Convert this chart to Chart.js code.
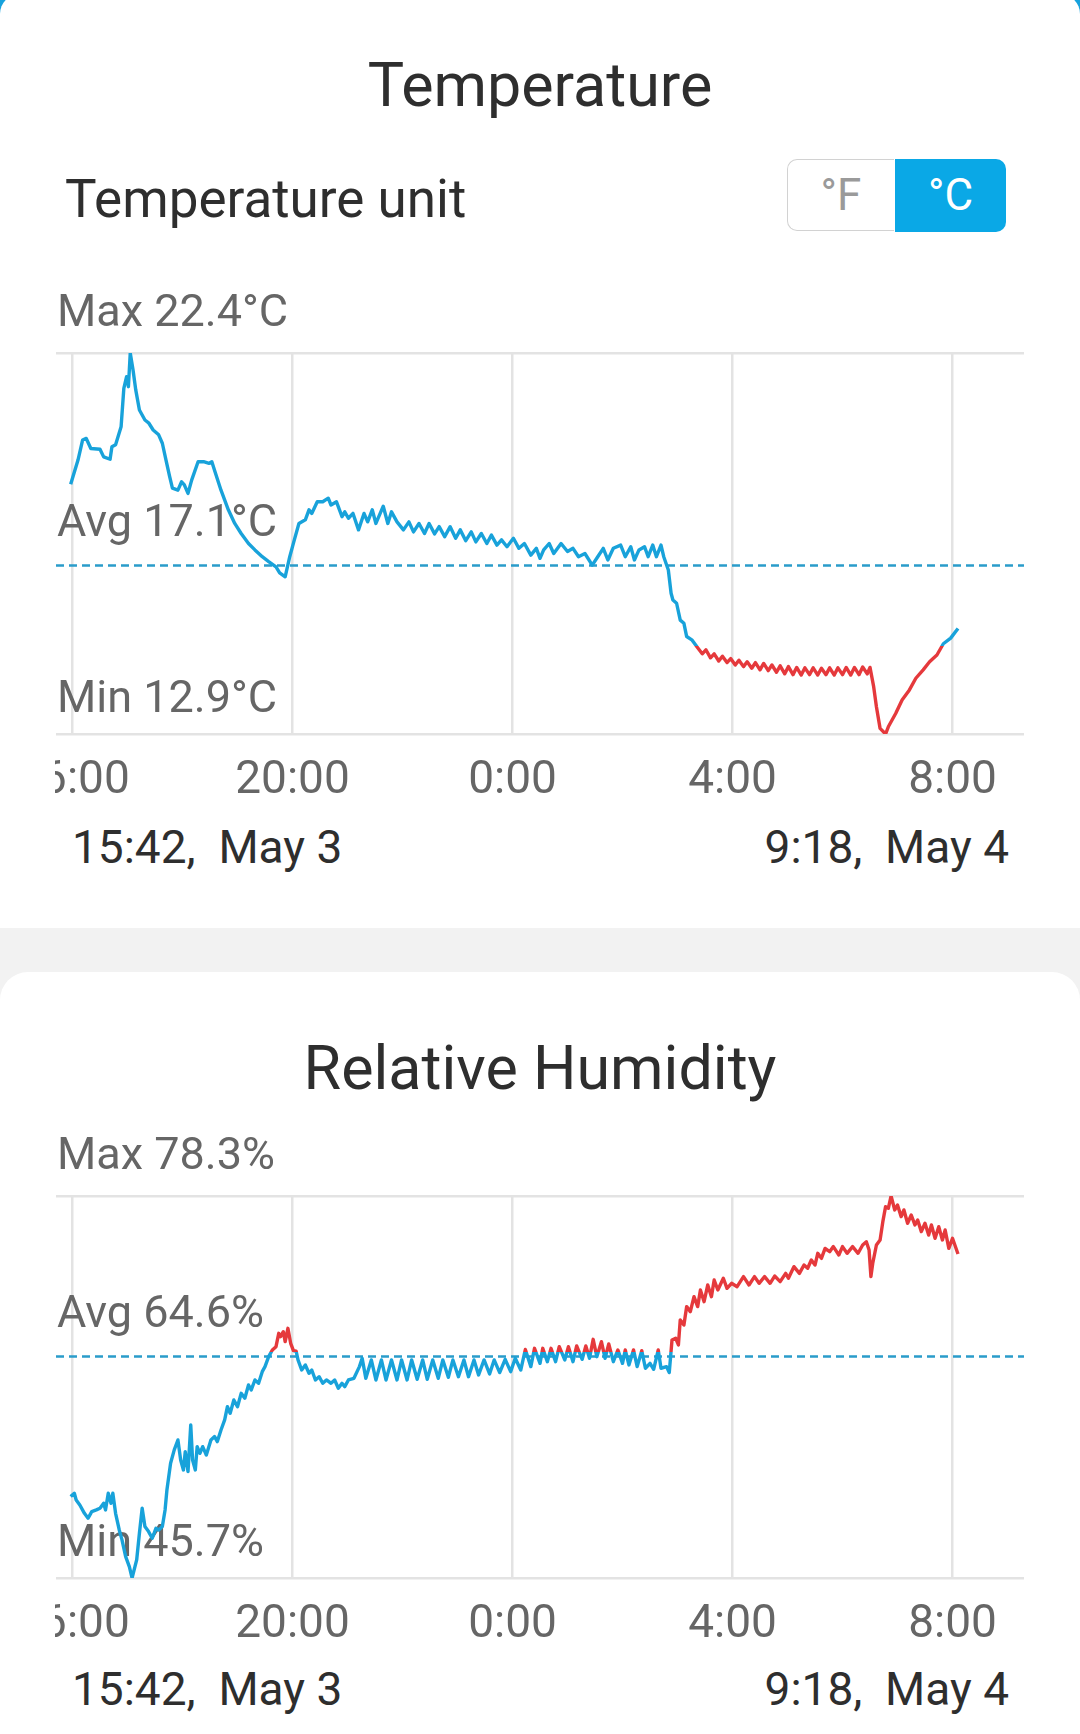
<!DOCTYPE html>
<html><head><meta charset="utf-8">
<script src="https://cdn.jsdelivr.net/npm/chart.js@4.4.1/dist/chart.umd.min.js"></script>
<style>
html,body{margin:0;padding:0;}
body{width:1080px;height:1734px;position:relative;overflow:hidden;background:#f2f2f2;font-family:Roboto,"Noto Sans",sans-serif;}
.abs{position:absolute;}
#blueTop{left:0;top:0;width:1080px;height:40px;background:#17a2dd;}
#card1{left:0;top:-6px;width:1080px;height:934px;background:#fff;border-radius:20px 20px 0 0;}
#card2{left:0;top:972px;width:1080px;height:762px;background:#fff;border-radius:28px 28px 0 0;}
.title{left:0;width:1080px;text-align:center;font-size:61px;line-height:61px;color:#2e2e2e;white-space:nowrap;}
.unit{left:65px;top:173px;font-size:53px;line-height:53px;color:#2e2e2e;white-space:nowrap;}
.date{font-size:46px;line-height:46px;color:#2e2e2e;white-space:pre;}
#toggle{left:787px;top:159px;width:219px;height:73px;}
#tF{position:absolute;left:0;top:0;width:106px;height:70px;border:1.5px solid #d2d2d2;border-right:none;border-radius:10px 0 0 10px;background:#fff;color:#9a9a9a;font-size:44px;line-height:70px;text-align:center;}
#tC{position:absolute;left:108px;top:0;width:111px;height:73px;border-radius:0 10px 10px 0;background:#0aa8e6;color:#fff;font-size:44px;line-height:73px;text-align:center;}
canvas{position:absolute;}
</style>
</head><body>
<div id="blueTop" class="abs"></div>
<div id="card1" class="abs"></div>
<div id="card2" class="abs"></div>

<div class="abs title" style="top:55px;">Temperature</div>
<div class="abs unit">Temperature unit</div>
<div id="toggle" class="abs"><div id="tF">°F</div><div id="tC">°C</div></div>
<canvas id="tempChart" width="969" height="520" style="left:55px;top:280px;"></canvas>
<div class="abs date" style="left:72px;top:824px;">15:42,  May 3</div>
<div class="abs date" style="right:71px;top:824px;">9:18,  May 4</div>

<div class="abs title" style="top:1038px;">Relative Humidity</div>
<canvas id="humChart" width="969" height="519" style="left:55px;top:1125px;"></canvas>
<div class="abs date" style="left:72px;top:1666px;">15:42,  May 3</div>
<div class="abs date" style="right:71px;top:1666px;">9:18,  May 4</div>

<script>
// ---- axis ----
const rangeStart = "15:42";
const rangeEnd = "9:18";
const tickTimes = ["16:00", "20:00", "0:00", "4:00", "8:00"];
const tickLabels = ["16:00", "20:00", "0:00", "4:00", "8:00"];

// ---- temperature ----
const tempMax = 22.4, tempAvg = 17.1, tempMin = 12.9;
const tempThreshold = 15.1;
const tempTimes = ["15:58","16:06","16:11","16:15","16:20","16:30","16:34","16:41","16:43","16:47","16:53","16:56","16:59","17:01","17:03","17:06","17:09","17:13","17:19","17:23","17:28","17:34","17:38","17:42","17:46","17:49","17:55","17:59","18:02","18:06","18:10","18:17","18:23","18:29","18:32","18:36","18:42","18:50","18:57","19:04","19:12","19:19","19:27","19:34","19:42","19:46","19:52","19:57","20:02","20:07","20:14","20:18","20:21","20:27","20:33","20:39","20:42","20:48","20:54","20:57","21:01","21:06","21:12","21:18","21:22","21:27","21:31","21:39","21:44","21:48","21:54","22:01","22:07","22:12","22:18","22:24","22:29","22:35","22:40","22:46","22:52","22:58","23:03","23:09","23:15","23:20","23:26","23:32","23:37","23:43","23:48","23:54","0:01","0:07","0:13","0:20","0:26","0:30","0:34","0:40","0:45","0:53","1:00","1:06","1:12","1:19","1:27","1:33","1:39","1:44","1:50","1:58","2:03","2:09","2:13","2:18","2:24","2:28","2:33","2:37","2:42","2:45","2:50","2:53","2:55","2:59","3:03","3:07","3:10","3:16","3:22","3:27","3:31","3:36","3:40","3:45","3:49","3:54","3:58","4:03","4:07","4:12","4:16","4:21","4:25","4:30","4:34","4:39","4:43","4:48","4:52","4:57","5:01","5:06","5:10","5:15","5:19","5:24","5:28","5:33","5:37","5:42","5:46","5:51","5:55","6:00","6:04","6:09","6:13","6:18","6:22","6:27","6:30","6:34","6:37","6:41","6:47","6:50","6:58","7:05","7:13","7:20","7:28","7:35","7:43","7:50","7:58","8:06"];
const tempValues = [19.13,19.73,20.23,20.27,20.02,20.00,19.81,19.75,20.06,20.11,20.56,21.52,21.81,21.56,22.40,21.98,21.48,20.98,20.73,20.66,20.48,20.36,20.15,19.73,19.32,19.03,18.98,19.19,19.11,18.90,19.23,19.69,19.69,19.65,19.69,19.40,18.98,18.49,18.15,17.90,17.65,17.49,17.32,17.20,17.07,16.92,16.82,17.32,17.74,18.15,18.24,18.49,18.40,18.69,18.69,18.78,18.61,18.69,18.32,18.44,18.28,18.40,17.99,18.40,18.19,18.49,18.15,18.58,18.15,18.44,18.19,17.99,18.19,17.94,18.15,17.90,18.15,17.89,18.07,17.82,18.07,17.78,17.99,17.72,17.94,17.69,17.90,17.65,17.86,17.61,17.74,17.57,17.78,17.53,17.65,17.36,17.53,17.28,17.49,17.65,17.40,17.65,17.45,17.53,17.32,17.40,17.11,17.32,17.53,17.24,17.53,17.61,17.32,17.57,17.24,17.49,17.57,17.32,17.61,17.32,17.61,17.32,16.99,16.41,16.24,16.16,15.74,15.66,15.33,15.24,15.05,14.90,15.00,14.80,14.90,14.72,14.84,14.68,14.78,14.62,14.74,14.58,14.70,14.54,14.68,14.50,14.66,14.48,14.62,14.44,14.60,14.40,14.58,14.38,14.56,14.37,14.55,14.38,14.55,14.37,14.54,14.38,14.55,14.37,14.55,14.38,14.56,14.37,14.56,14.38,14.57,14.40,14.56,14.08,13.58,13.04,12.90,13.08,13.41,13.75,14.00,14.29,14.50,14.70,14.87,15.15,15.29,15.53];

// ---- humidity ----
const humMax = 78.3, humAvg = 64.6, humMin = 45.7;
const humThreshold = 65.0;
const humTimes = ["15:58","16:02","16:04","16:08","16:13","16:17","16:21","16:26","16:30","16:34","16:36","16:39","16:42","16:44","16:47","16:51","16:54","16:58","17:02","17:05","17:10","17:13","17:16","17:19","17:23","17:27","17:31","17:34","17:38","17:41","17:43","17:47","17:51","17:55","17:58","18:01","18:03","18:06","18:09","18:11","18:14","18:16","18:19","18:22","18:26","18:31","18:35","18:38","18:42","18:46","18:49","18:52","18:56","19:00","19:04","19:08","19:12","19:15","19:19","19:23","19:27","19:30","19:34","19:38","19:42","19:45","19:47","19:50","19:52","19:55","19:58","20:01","20:04","20:06","20:10","20:14","20:18","20:21","20:25","20:29","20:33","20:37","20:42","20:46","20:50","20:54","20:57","21:01","21:07","21:13","21:16","21:20","21:26","21:31","21:37","21:42","21:48","21:54","21:59","22:05","22:10","22:16","22:22","22:27","22:33","22:39","22:44","22:50","22:55","23:01","23:07","23:12","23:18","23:23","23:29","23:35","23:40","23:46","23:52","23:58","0:03","0:09","0:14","0:20","0:24","0:30","0:33","0:38","0:42","0:47","0:51","0:57","1:01","1:06","1:10","1:16","1:20","1:24","1:28","1:32","1:37","1:41","1:45","1:50","1:55","2:00","2:03","2:07","2:12","2:16","2:21","2:25","2:30","2:34","2:39","2:42","2:48","2:51","2:54","2:58","3:01","3:03","3:07","3:10","3:14","3:18","3:22","3:25","3:29","3:33","3:37","3:40","3:44","3:50","3:54","3:59","4:05","4:12","4:18","4:24","4:29","4:35","4:41","4:46","4:52","4:58","5:01","5:07","5:13","5:18","5:22","5:26","5:30","5:33","5:37","5:41","5:46","5:50","5:56","6:00","6:05","6:11","6:17","6:22","6:26","6:29","6:31","6:33","6:37","6:41","6:44","6:47","6:50","6:53","6:57","7:00","7:04","7:07","7:11","7:15","7:19","7:22","7:26","7:30","7:34","7:37","7:41","7:45","7:49","7:52","7:56","8:00","8:06"];
const humValues = [52.65,52.93,52.36,51.93,51.22,50.80,51.37,51.51,51.65,52.08,51.51,52.93,52.08,52.93,51.22,49.80,48.95,47.53,46.67,45.70,47.24,49.52,51.65,50.09,49.66,49.09,49.94,49.80,50.09,51.51,53.21,55.49,56.63,57.48,55.77,54.92,56.48,54.78,58.76,55.77,54.92,56.91,56.34,56.91,56.20,57.48,57.77,57.34,58.33,59.19,60.32,59.76,60.89,60.32,61.46,61.04,62.17,61.75,62.60,62.32,63.31,63.74,64.59,65.16,65.44,66.58,66.30,66.72,65.87,67.01,65.73,65.10,65.05,64.31,63.45,63.88,63.17,63.45,62.60,62.88,62.32,62.60,62.32,62.60,61.89,62.32,62.03,62.60,62.74,63.74,64.45,62.74,64.31,62.60,64.31,62.60,64.31,62.60,64.31,62.60,64.31,62.66,64.31,62.66,64.31,62.74,64.31,62.83,64.31,62.88,64.31,62.88,64.31,63.03,64.31,63.11,64.31,63.23,64.36,63.31,64.45,63.45,65.20,63.74,65.30,64.02,65.30,64.16,65.30,64.16,65.44,64.31,65.44,64.16,65.50,64.36,65.50,64.45,66.07,64.59,65.87,64.45,65.67,64.16,65.16,64.02,65.16,63.88,65.16,63.74,65.10,63.60,64.02,63.51,65.16,63.60,63.74,63.23,66.01,66.16,65.59,67.72,67.29,68.86,68.43,69.71,68.86,70.28,69.28,70.71,69.71,71.13,70.28,71.28,70.42,70.85,70.56,71.42,70.71,71.42,70.85,71.42,70.85,71.47,70.99,71.70,71.28,72.27,71.70,72.41,72.13,72.84,72.41,73.41,72.98,73.83,73.55,73.98,73.27,73.98,73.41,73.98,73.41,74.12,74.40,73.69,71.42,72.56,74.12,74.55,76.11,77.39,77.25,78.30,77.11,77.53,76.54,77.11,75.97,76.68,75.83,76.25,75.26,75.97,74.97,75.83,74.69,75.68,74.55,75.40,73.83,74.69,73.35];

// ---- helpers ----
function toMin(t) {
  const [h, m] = t.split(":").map(Number);
  return (h < 12 ? h + 24 : h) * 60 + m;
}
const xMin = toMin(rangeStart), xMax = toMin(rangeEnd);
const tickMinutes = tickTimes.map(toMin);
const BLUE = "#18a2da", RED = "#e5393c";

function splitColor(thr, belowColor, aboveColor) {
  return function (context) {
    const chart = context.chart;
    const { ctx, chartArea, scales } = chart;
    if (!chartArea || !scales.y) return belowColor;
    const yp = scales.y.getPixelForValue(thr);
    const g = ctx.createLinearGradient(0, chartArea.bottom, 0, chartArea.top);
    let p = (chartArea.bottom - yp) / (chartArea.bottom - chartArea.top);
    p = Math.min(1, Math.max(0, p));
    g.addColorStop(0, belowColor); g.addColorStop(p, belowColor);
    g.addColorStop(p, aboveColor); g.addColorStop(1, aboveColor);
    return g;
  };
}

const summaryPlugin = {
  id: "summary",
  beforeDatasetsDraw(chart, args, opts) {
    const { ctx, chartArea, scales } = chart;
    ctx.save();
    ctx.font = "45px Roboto";
    ctx.fillStyle = "#666666";
    ctx.textAlign = "left";
    ctx.textBaseline = "alphabetic";
    const x = chartArea.left + 1;
    ctx.fillText(opts.maxText, x, chartArea.top - 27);
    ctx.fillText(opts.avgText, x, scales.y.getPixelForValue(opts.avgValue) - 30);
    ctx.fillText(opts.minText, x, chartArea.bottom - 22);
    ctx.restore();
  }
};

function makeChart(id, times, values, lo, hi, avg, unit, color, padTop) {
  const pts = times.map((t, i) => ({ x: toMin(t), y: values[i] }));
  return new Chart(document.getElementById(id), {
    type: "line",
    data: {
      datasets: [
        { data: pts, borderColor: color, borderWidth: 3.4, pointRadius: 0, tension: 0, order: 1, borderJoinStyle: "round" },
        { data: [{ x: xMin, y: avg }, { x: xMax, y: avg }], borderColor: "#2a9cca", borderWidth: 2.5, borderDash: [8, 5], pointRadius: 0, order: 2 }
      ]
    },
    options: {
      responsive: false, animation: false, events: [],
      layout: { padding: { left: 1, right: 0, top: padTop, bottom: 0 } },
      plugins: {
        legend: { display: false }, tooltip: { enabled: false },
        summary: {
          maxText: "Max " + hi.toFixed(1) + unit,
          avgText: "Avg " + avg.toFixed(1) + unit,
          minText: "Min " + lo.toFixed(1) + unit,
          avgValue: avg
        }
      },
      scales: {
        x: {
          type: "linear", min: xMin, max: xMax,
          afterBuildTicks: a => { a.ticks = tickMinutes.map(v => ({ value: v })); },
          ticks: {
            callback: v => tickLabels[tickMinutes.indexOf(v)],
            font: { family: "Roboto", size: 46 }, color: "#666666",
            padding: 20, maxRotation: 0, minRotation: 0, autoSkip: false
          },
          grid: { color: "#e3e3e3", lineWidth: 2.5, drawTicks: false },
          border: { display: false },
          afterFit: a => { a.height = 66; a.paddingLeft = 0; a.paddingRight = 0; }
        },
        y: {
          min: lo, max: hi,
          afterBuildTicks: a => { a.ticks = [{ value: lo }, { value: hi }]; },
          ticks: { display: false },
          grid: { color: "#e3e3e3", lineWidth: 2.5, drawTicks: false },
          border: { display: false },
          afterFit: a => { a.width = 0; }
        }
      }
    },
    plugins: [summaryPlugin]
  });
}

makeChart("tempChart", tempTimes, tempValues, tempMin, tempMax, tempAvg, "°C", splitColor(tempThreshold, RED, BLUE), 73);
makeChart("humChart", humTimes, humValues, humMin, humMax, humAvg, "%", splitColor(humThreshold, BLUE, RED), 71);
</script>
</body></html>
